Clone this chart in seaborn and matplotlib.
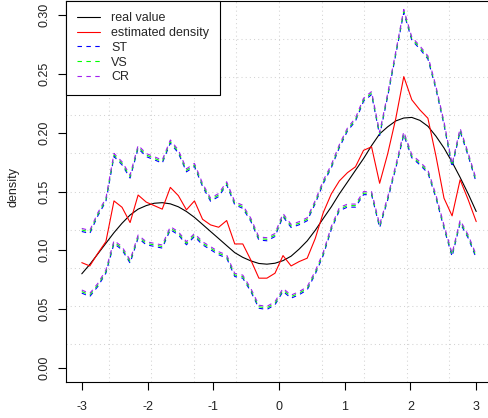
import numpy as np
import pandas as pd
import matplotlib
matplotlib.use("Agg")
import matplotlib.pyplot as plt
from matplotlib.lines import Line2D
import seaborn as sns

# ---------------- data ----------------
x_grid = [-3.000, -2.878, -2.755, -2.633, -2.510, -2.388, -2.265, -2.143, -2.020, -1.898,
          -1.776, -1.653, -1.531, -1.408, -1.286, -1.163, -1.041, -0.918, -0.796, -0.673,
          -0.551, -0.429, -0.306, -0.184, -0.061, 0.061, 0.184, 0.306, 0.429, 0.551,
          0.673, 0.796, 0.918, 1.041, 1.163, 1.286, 1.408, 1.531, 1.653, 1.776,
          1.898, 2.020, 2.143, 2.265, 2.388, 2.510, 2.633, 2.755, 2.878, 3.000]

real_value = [0.0800, 0.0880, 0.0970, 0.1060, 0.1150, 0.1230, 0.1300, 0.1350, 0.1380, 0.1400,
              0.1405, 0.1395, 0.1370, 0.1330, 0.1280, 0.1220, 0.1160, 0.1100, 0.1040, 0.0980,
              0.0940, 0.0910, 0.0888, 0.0882, 0.0890, 0.0912, 0.0950, 0.1010, 0.1080, 0.1170,
              0.1270, 0.1370, 0.1480, 0.1580, 0.1680, 0.1780, 0.1890, 0.1990, 0.2050, 0.2100,
              0.2125, 0.2130, 0.2105, 0.2055, 0.1970, 0.1870, 0.1750, 0.1620, 0.1480, 0.1330]

estimated_density = [0.0895, 0.0867, 0.0975, 0.1074, 0.1420, 0.1366, 0.1236, 0.1470, 0.1410, 0.1380,
                     0.1350, 0.1535, 0.1465, 0.1344, 0.1420, 0.1264, 0.1216, 0.1196, 0.1253, 0.1054,
                     0.1054, 0.0918, 0.0763, 0.0763, 0.0805, 0.0955, 0.0867, 0.0904, 0.0933, 0.1100,
                     0.1320, 0.1480, 0.1590, 0.1660, 0.1710, 0.1850, 0.1880, 0.1570, 0.1820, 0.2120,
                     0.2477, 0.2280, 0.2194, 0.2123, 0.1800, 0.1443, 0.1293, 0.1600, 0.1430, 0.1244]

st_upper = [0.1160, 0.1143, 0.1294, 0.1416, 0.1798, 0.1727, 0.1614, 0.1867, 0.1797, 0.1770,
            0.1741, 0.1912, 0.1827, 0.1667, 0.1713, 0.1543, 0.1417, 0.1457, 0.1557, 0.1387,
            0.1357, 0.1247, 0.1087, 0.1081, 0.1117, 0.1287, 0.1194, 0.1217, 0.1251, 0.1397,
            0.1567, 0.1702, 0.1873, 0.2014, 0.2098, 0.2267, 0.2324, 0.1977, 0.2307, 0.2663,
            0.3022, 0.2787, 0.2712, 0.2627, 0.2367, 0.2067, 0.1707, 0.2011, 0.1802, 0.1577]
st_lower = [0.0636, 0.0607, 0.0693, 0.0806, 0.1057, 0.1005, 0.0891, 0.1104, 0.1047, 0.1033,
            0.1019, 0.1175, 0.1132, 0.1047, 0.1117, 0.1047, 0.1005, 0.0962, 0.0934, 0.0777,
            0.0763, 0.0650, 0.0507, 0.0497, 0.0537, 0.0650, 0.0593, 0.0622, 0.0664, 0.0797,
            0.0957, 0.1177, 0.1337, 0.1367, 0.1367, 0.1473, 0.1473, 0.1192, 0.1427, 0.1697,
            0.1982, 0.1787, 0.1727, 0.1657, 0.1444, 0.1187, 0.0947, 0.1231, 0.1104, 0.0934]

vs_upper = [0.1173, 0.1156, 0.1307, 0.1429, 0.1811, 0.1740, 0.1627, 0.1880, 0.1810, 0.1783,
            0.1754, 0.1925, 0.1840, 0.1680, 0.1726, 0.1556, 0.1430, 0.1470, 0.1570, 0.1400,
            0.1370, 0.1260, 0.1100, 0.1094, 0.1130, 0.1300, 0.1207, 0.1230, 0.1264, 0.1410,
            0.1580, 0.1715, 0.1886, 0.2027, 0.2111, 0.2280, 0.2337, 0.1990, 0.2320, 0.2676,
            0.3035, 0.2800, 0.2725, 0.2640, 0.2380, 0.2080, 0.1720, 0.2024, 0.1815, 0.1590]
vs_lower = [0.0649, 0.0620, 0.0706, 0.0819, 0.1070, 0.1018, 0.0904, 0.1117, 0.1060, 0.1046,
            0.1032, 0.1188, 0.1145, 0.1060, 0.1130, 0.1060, 0.1018, 0.0975, 0.0947, 0.0790,
            0.0776, 0.0663, 0.0520, 0.0510, 0.0550, 0.0663, 0.0606, 0.0635, 0.0677, 0.0810,
            0.0970, 0.1190, 0.1350, 0.1380, 0.1380, 0.1486, 0.1486, 0.1205, 0.1440, 0.1710,
            0.1995, 0.1800, 0.1740, 0.1670, 0.1457, 0.1200, 0.0960, 0.1244, 0.1117, 0.0947]

cr_upper = [0.1186, 0.1169, 0.1320, 0.1442, 0.1824, 0.1753, 0.1640, 0.1893, 0.1823, 0.1796,
            0.1767, 0.1938, 0.1853, 0.1693, 0.1739, 0.1569, 0.1443, 0.1483, 0.1583, 0.1413,
            0.1383, 0.1273, 0.1113, 0.1107, 0.1143, 0.1313, 0.1220, 0.1243, 0.1277, 0.1423,
            0.1593, 0.1728, 0.1899, 0.2040, 0.2124, 0.2293, 0.2350, 0.2003, 0.2333, 0.2689,
            0.3048, 0.2813, 0.2738, 0.2653, 0.2393, 0.2093, 0.1733, 0.2037, 0.1828, 0.1603]
cr_lower = [0.0662, 0.0633, 0.0719, 0.0832, 0.1083, 0.1031, 0.0917, 0.1130, 0.1073, 0.1059,
            0.1045, 0.1201, 0.1158, 0.1073, 0.1143, 0.1073, 0.1031, 0.0988, 0.0960, 0.0803,
            0.0789, 0.0676, 0.0533, 0.0523, 0.0563, 0.0676, 0.0619, 0.0648, 0.0690, 0.0823,
            0.0983, 0.1203, 0.1363, 0.1393, 0.1393, 0.1499, 0.1499, 0.1218, 0.1453, 0.1723,
            0.2008, 0.1813, 0.1753, 0.1683, 0.1470, 0.1213, 0.0973, 0.1257, 0.1130, 0.0960]

x_ticks = [-3, -2, -1, 0, 1, 2, 3]
x_tick_labels = ["-3", "-2", "-1", "0", "1", "2", "3"]
y_ticks = [0.00, 0.05, 0.10, 0.15, 0.20, 0.25, 0.30]
y_tick_labels = ["0.00", "0.05", "0.10", "0.15", "0.20", "0.25", "0.30"]
legend_labels = ["real value", "estimated density", "ST", "VS", "CR"]

# ---------------- style ----------------
sns.set_style("white")
plt.rcParams["font.family"] = ["Liberation Sans", "DejaVu Sans"]

W, H = 489, 418
fig = plt.figure(figsize=(W / 100, H / 100), dpi=100)
ax = fig.add_axes([66 / W, (H - 382) / H, (492 - 66) / W, (382 - 1) / H])

xmin, xmax = -3.24, 3.24
ymin, ymax = -0.012, 0.312
ax.set_xlim(xmin, xmax)
ax.set_ylim(ymin, ymax)

# R-style grid (nx = ny = 10 equal divisions of the plot region)
grid_kw = dict(color="#D3D3D3", lw=0.75, linestyle=(0, (1, 3)), zorder=0)
for gx in np.linspace(xmin, xmax, 11)[1:-1]:
    ax.axvline(gx, **grid_kw)
for gy in np.linspace(ymin, ymax, 11)[1:-1]:
    ax.axhline(gy, **grid_kw)

df = pd.DataFrame({
    "x": x_grid, "real": real_value, "est": estimated_density,
    "st_u": st_upper, "st_l": st_lower, "vs_u": vs_upper, "vs_l": vs_lower,
    "cr_u": cr_upper, "cr_l": cr_lower,
})

lw = 0.8
dash = (0, (4, 4))
sns.lineplot(data=df, x="x", y="real", color="#000000", lw=lw, ax=ax, errorbar=None)
sns.lineplot(data=df, x="x", y="est", color="#FF0000", lw=lw, ax=ax, errorbar=None)
for col, c in [("st", "#0000FF"), ("vs", "#00FF00"), ("cr", "#A020F0")]:
    for side in ("u", "l"):
        sns.lineplot(data=df, x="x", y=f"{col}_{side}", color=c, lw=lw,
                     linestyle=dash, ax=ax, errorbar=None)

# axes / ticks
for s in ax.spines.values():
    s.set_color("#000000")
    s.set_linewidth(0.8)
    s.set_visible(True)
ax.set_xticks(x_ticks)
ax.set_xticklabels(x_tick_labels)
ax.set_yticks(y_ticks)
ax.set_yticklabels(y_tick_labels, rotation=90, va="center")
ax.tick_params(axis="both", which="major", bottom=True, left=True, top=False, right=False,
               direction="out", length=5.5, width=0.8, color="#000000",
               labelsize=9, labelcolor="#222222")
ax.tick_params(axis="x", pad=8)
ax.tick_params(axis="y", pad=6)
ax.set_xlabel("")
ax.set_ylabel("density", fontsize=9, color="#222222")
ax.yaxis.set_label_coords((20 - 66) / 426, (382 - 187) / 381)

handles = [
    Line2D([], [], color="#000000", lw=lw),
    Line2D([], [], color="#FF0000", lw=lw),
    Line2D([], [], color="#0000FF", lw=lw, linestyle=dash),
    Line2D([], [], color="#00FF00", lw=lw, linestyle=dash),
    Line2D([], [], color="#A020F0", lw=lw, linestyle=dash),
]
leg = ax.legend(handles, legend_labels, loc="upper left", bbox_to_anchor=(0, 1),
                borderaxespad=0, fontsize=9, frameon=True, fancybox=False,
                framealpha=1, edgecolor="#000000", handlelength=1.8,
                handletextpad=0.9, labelspacing=0.22, borderpad=0.9)
leg.get_frame().set_linewidth(0.8)
leg.set_zorder(5)

fig.savefig("out.png", dpi=100)
